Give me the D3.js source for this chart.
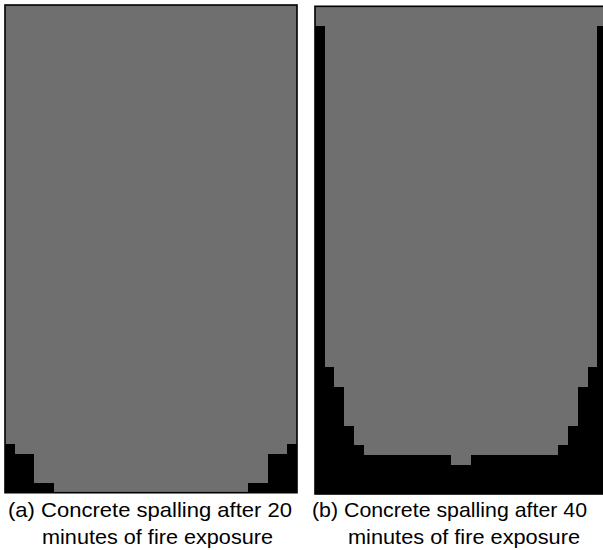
<!DOCTYPE html>
<html>
<head>
<meta charset="utf-8">
<script src="https://cdn.jsdelivr.net/npm/d3@7"></script>
<style>
html,body{margin:0;padding:0;background:#fff;overflow:hidden;}
svg{display:block;}
</style>
</head>
<body>
<script>
// Grid size of the cross-section
const nCols = 30;
const nRows = 50;
// Spalled (black) cells per row, counted from the bottom row upward: cells from the left and from the right
const left20  = [5,3,3,3,1,0,0,0,0,0, 0,0,0,0,0,0,0,0,0,0, 0,0,0,0,0,0,0,0,0,0, 0,0,0,0,0,0,0,0,0,0, 0,0,0,0,0,0,0,0,0,0];
const right20 = [5,3,3,3,1,0,0,0,0,0, 0,0,0,0,0,0,0,0,0,0, 0,0,0,0,0,0,0,0,0,0, 0,0,0,0,0,0,0,0,0,0, 0,0,0,0,0,0,0,0,0,0];
const left40  = [30,30,30,14,5,4,4,3,3,3, 3,2,2,1,1,1,1,1,1,1, 1,1,1,1,1,1,1,1,1,1, 1,1,1,1,1,1,1,1,1,1, 1,1,1,1,1,1,1,1,0,0];
const right40 = [0,0,0,14,5,4,4,3,3,3, 3,2,2,1,1,1,1,1,1,1, 1,1,1,1,1,1,1,1,1,1, 1,1,1,1,1,1,1,1,1,1, 1,1,1,1,1,1,1,1,0,0];
const captions = [
  ["(a) Concrete spalling after 20", "minutes of fire exposure"],
  ["(b) Concrete spalling after 40", "minutes of fire exposure"]
];

const W = 603, H = 550;
const svg = d3.select("body").append("svg").attr("width", W).attr("height", H);

const panels = [
  {left: left20, right: right20, x0: 5, y0: 5, cap: captions[0], capX: [8, 42], capW: [284, 231]},
  {left: left40, right: right40, x0: 315, y0: 6.3, cap: captions[1], capX: [312, 348], capW: [275, 232]}
];
const pw = 292, ph = 487.7;

panels.forEach(p => {
  const x = d3.scaleLinear().domain([0, nCols]).range([p.x0, p.x0 + pw]);
  const y = d3.scaleLinear().domain([0, nRows]).range([p.y0 + ph, p.y0]);
  const g = svg.append("g");
  g.append("rect").attr("x", x(0)).attr("y", y(nRows)).attr("width", x(nCols) - x(0)).attr("height", y(0) - y(nRows))
    .attr("fill", "#6f6f6f");
  const rows = d3.range(nRows);
  const cells = g.append("g").attr("shape-rendering", "crispEdges");
  cells.selectAll("rect.l").data(rows.filter(r => p.left[r] > 0)).join("rect").attr("class", "l")
    .attr("x", x(0)).attr("y", r => y(r + 1))
    .attr("width", r => x(p.left[r]) - x(0)).attr("height", r => y(r) - y(r + 1))
    .attr("fill", "#000");
  cells.selectAll("rect.r").data(rows.filter(r => p.right[r] > 0)).join("rect").attr("class", "r")
    .attr("x", r => x(nCols - p.right[r])).attr("y", r => y(r + 1))
    .attr("width", r => x(nCols) - x(nCols - p.right[r])).attr("height", r => y(r) - y(r + 1))
    .attr("fill", "#000");
  g.append("rect").attr("x", x(0)).attr("y", y(nRows)).attr("width", x(nCols) - x(0)).attr("height", y(0) - y(nRows))
    .attr("fill", "none").attr("stroke", "#000").attr("stroke-width", 1.6);
  [0, 1].forEach(i => {
    g.append("text").attr("x", p.capX[i]).attr("y", i === 0 ? 517 : 544).text(p.cap[i])
      .attr("font-family", "Liberation Sans, Arial, sans-serif").attr("font-size", 21).attr("fill", "#000")
      .attr("textLength", p.capW[i]).attr("lengthAdjust", "spacingAndGlyphs");
  });
});
</script>
</body>
</html>
